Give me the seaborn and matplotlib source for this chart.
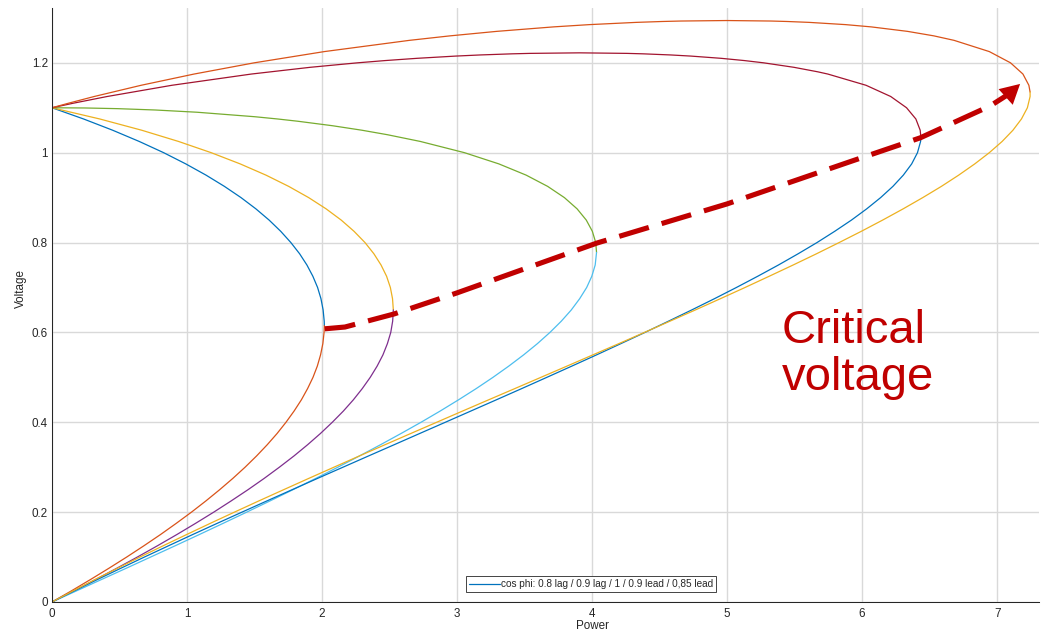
import numpy as np
import matplotlib
matplotlib.use("Agg")
import matplotlib.pyplot as plt
import seaborn as sns

# ---------------- data ----------------
# each curve: path from (0, 1.1) along the upper branch, through the nose, down to (0, 0)
pf08_lag_v = [1.1, 1.075, 1.05, 1.025, 1.0, 0.975, 0.95, 0.925, 0.9, 0.875, 0.85, 0.825, 0.8, 0.775,
              0.75, 0.725, 0.7, 0.675, 0.65, 0.625, 0.615, 0.6, 0.575, 0.55, 0.525, 0.5, 0.475, 0.45,
              0.425, 0.4, 0.375, 0.35, 0.325, 0.3, 0.275, 0.25, 0.225, 0.2, 0.175, 0.15, 0.125, 0.1,
              0.075, 0.05, 0.025, 0.0]
pf08_lag_p = [0.0, 0.234, 0.449, 0.646, 0.827, 0.991, 1.141, 1.277, 1.400, 1.510, 1.608, 1.694, 1.769, 1.834,
              1.888, 1.932, 1.967, 1.992, 2.008, 2.016, 2.017, 2.015, 2.006, 1.989, 1.965, 1.933, 1.893, 1.847,
              1.793, 1.733, 1.667, 1.594, 1.515, 1.430, 1.339, 1.242, 1.140, 1.033, 0.920, 0.803, 0.680, 0.553,
              0.421, 0.285, 0.145, 0.0]

pf09_lag_v = [1.1, 1.075, 1.05, 1.025, 1.0, 0.975, 0.95, 0.925, 0.9, 0.875, 0.85, 0.825, 0.8, 0.775,
              0.75, 0.725, 0.7, 0.675, 0.65, 0.625, 0.6, 0.575, 0.55, 0.525, 0.5, 0.475, 0.45, 0.425,
              0.4, 0.375, 0.35, 0.325, 0.3, 0.275, 0.25, 0.225, 0.2, 0.175, 0.15, 0.125, 0.1, 0.075,
              0.05, 0.025, 0.0]
pf09_lag_p = [0.0, 0.354, 0.664, 0.937, 1.179, 1.394, 1.585, 1.753, 1.901, 2.030, 2.142, 2.237, 2.318, 2.384,
              2.437, 2.478, 2.506, 2.522, 2.528, 2.523, 2.509, 2.484, 2.451, 2.408, 2.357, 2.298, 2.232, 2.158,
              2.076, 1.988, 1.893, 1.792, 1.684, 1.571, 1.452, 1.327, 1.198, 1.063, 0.924, 0.780, 0.632, 0.479,
              0.323, 0.163, 0.0]

pf10_v = [1.1, 1.0995, 1.098, 1.095, 1.09, 1.08, 1.075, 1.07, 1.06, 1.05, 1.04, 1.025, 1.0, 0.975,
          0.95, 0.925, 0.9, 0.875, 0.85, 0.825, 0.8, 0.778, 0.75, 0.725, 0.7, 0.675, 0.65, 0.625,
          0.6, 0.575, 0.55, 0.525, 0.5, 0.475, 0.45, 0.425, 0.4, 0.375, 0.35, 0.325, 0.3, 0.275,
          0.25, 0.225, 0.2, 0.175, 0.15, 0.125, 0.1, 0.075, 0.05, 0.025, 0.0]
pf10_p = [0.0, 0.243, 0.485, 0.765, 1.075, 1.503, 1.671, 1.820, 2.077, 2.295, 2.484, 2.728, 3.055, 3.310,
          3.512, 3.671, 3.795, 3.889, 3.957, 4.002, 4.027, 4.033, 4.023, 3.998, 3.960, 3.908, 3.846, 3.772,
          3.688, 3.595, 3.493, 3.383, 3.266, 3.142, 3.011, 2.875, 2.733, 2.585, 2.433, 2.277, 2.117, 1.953,
          1.785, 1.615, 1.442, 1.267, 1.090, 0.911, 0.730, 0.549, 0.366, 0.183, 0.0]

pf09_lead_v = [1.1, 1.11, 1.125, 1.15, 1.175, 1.19, 1.2, 1.205, 1.21, 1.215, 1.2175, 1.22, 1.221, 1.2222,
               1.221, 1.22, 1.2175, 1.215, 1.21, 1.205, 1.2, 1.19, 1.18, 1.175, 1.15, 1.125, 1.1, 1.075,
               1.05, 1.035, 1.025, 1.0, 0.975, 0.95, 0.925, 0.9, 0.875, 0.85, 0.825, 0.8, 0.775, 0.75,
               0.725, 0.7, 0.675, 0.65, 0.625, 0.6, 0.575, 0.55, 0.525, 0.5, 0.475, 0.45, 0.425, 0.4,
               0.375, 0.35, 0.325, 0.3, 0.275, 0.25, 0.225, 0.2, 0.175, 0.15, 0.125, 0.1, 0.075, 0.05,
               0.025, 0.0]
pf09_lead_p = [0.0, 0.156, 0.408, 0.888, 1.476, 1.912, 2.263, 2.467, 2.703, 2.990, 3.171, 3.407, 3.539, 3.907,
               4.259, 4.378, 4.582, 4.731, 4.956, 5.128, 5.270, 5.495, 5.671, 5.746, 6.029, 6.212, 6.329, 6.398,
               6.430, 6.435, 6.433, 6.410, 6.367, 6.305, 6.228, 6.137, 6.034, 5.921, 5.797, 5.666, 5.526, 5.380,
               5.227, 5.069, 4.906, 4.738, 4.566, 4.392, 4.213, 4.033, 3.850, 3.665, 3.479, 3.291, 3.102, 2.913,
               2.723, 2.534, 2.344, 2.155, 1.966, 1.779, 1.592, 1.407, 1.223, 1.041, 0.862, 0.684, 0.509, 0.336,
               0.167, 0.0]

pf085_lead_v = [1.1, 1.11, 1.125, 1.15, 1.175, 1.2, 1.225, 1.25, 1.26, 1.27, 1.28, 1.285, 1.29, 1.292,
                1.293, 1.2941, 1.293, 1.292, 1.29, 1.285, 1.28, 1.27, 1.26, 1.25, 1.225, 1.2, 1.175, 1.15,
                1.135, 1.125, 1.1, 1.075, 1.05, 1.025, 1.0, 0.975, 0.95, 0.925, 0.9, 0.875, 0.85, 0.825,
                0.8, 0.775, 0.75, 0.725, 0.7, 0.675, 0.65, 0.625, 0.6, 0.575, 0.55, 0.525, 0.5, 0.475,
                0.45, 0.425, 0.4, 0.375, 0.35, 0.325, 0.3, 0.275, 0.25, 0.225, 0.2, 0.175, 0.15, 0.125,
                0.1, 0.075, 0.05, 0.025, 0.0]
pf085_lead_p = [0.0, 0.121, 0.312, 0.660, 1.052, 1.498, 2.017, 2.647, 2.948, 3.294, 3.716, 3.980, 4.327, 4.522,
                4.656, 4.999, 5.326, 5.443, 5.608, 5.878, 6.066, 6.336, 6.531, 6.681, 6.942, 7.099, 7.191, 7.235,
                7.244, 7.244, 7.224, 7.180, 7.117, 7.037, 6.942, 6.834, 6.715, 6.587, 6.449, 6.304, 6.152, 5.994,
                5.830, 5.662, 5.489, 5.312, 5.133, 4.950, 4.765, 4.577, 4.388, 4.198, 4.006, 3.814, 3.621, 3.428,
                3.234, 3.041, 2.849, 2.657, 2.466, 2.276, 2.088, 1.901, 1.716, 1.532, 1.351, 1.172, 0.996, 0.822,
                0.651, 0.484, 0.319, 0.158, 0.0]

# critical-voltage annotation path (hand drawn arrow in the reference)
crit_p = [2.02, 2.17, 2.533, 3.0, 4.037, 5.0, 5.911, 6.43, 6.948, 7.089]
crit_v = [0.608, 0.612, 0.641, 0.688, 0.799, 0.886, 0.980, 1.033, 1.104, 1.131]
arrow_tip = (7.17, 1.153)

x_ticks = [0, 1, 2, 3, 4, 5, 6, 7]
y_ticks = [0, 0.2, 0.4, 0.6, 0.8, 1.0, 1.2]
y_tick_labels = ["0", "0.2", "0.4", "0.6", "0.8", "1", "1.2"]
legend_text = "cos phi: 0.8 lag / 0.9 lag / 1 / 0.9 lead / 0,85 lead"

# ---------------- styling ----------------
sns.set_style("white")
plt.rcParams['font.family'] = ['Liberation Sans', 'DejaVu Sans']

fig = plt.figure(figsize=(10.41, 6.35), dpi=100)
ax = fig.add_axes([52 / 1041, 1 - 602 / 635, (1039 - 52) / 1041, (602 - 8) / 635])

curves = [
    (pf08_lag_p, pf08_lag_v, '#0072BD', '#D95319'),
    (pf09_lag_p, pf09_lag_v, '#EDB120', '#7E2F8E'),
    (pf10_p, pf10_v, '#77AC30', '#4DBEEE'),
    (pf09_lead_p, pf09_lead_v, '#A2142F', '#0072BD'),
    (pf085_lead_p, pf085_lead_v, '#D95319', '#EDB120'),
]

first_line = None
for p, v, cu, cl in curves:
    p = np.asarray(p); v = np.asarray(v)
    k = int(np.argmax(p))
    sns.lineplot(x=p[:k + 1], y=v[:k + 1], sort=False, estimator=None, color=cu, lw=0.9, ax=ax)
    if first_line is None:
        first_line = ax.lines[-1]
    sns.lineplot(x=p[k:], y=v[k:], sort=False, estimator=None, color=cl, lw=0.9, ax=ax)

# dashed critical voltage arrow
red = '#C00000'
ax.plot(crit_p, crit_v, color=red, lw=3.7, linestyle=(0, (6, 2.6)), dash_capstyle='butt', zorder=5)
ax.annotate('', xy=arrow_tip, xytext=(crit_p[-1], crit_v[-1]),
            arrowprops=dict(arrowstyle='-|>,head_length=0.7,head_width=0.38', color=red, lw=0,
                            mutation_scale=20, shrinkA=0, shrinkB=0), zorder=6)

ax.text(5.405, 0.5766, 'Critical', fontsize=34, color=red, ha='left', va='baseline')
ax.text(5.405, 0.472, 'voltage', fontsize=34, color=red, ha='left', va='baseline')

# axes
ax.set_xlim(0, 7.31)
ax.set_ylim(0, 1.322)
ax.set_xticks(x_ticks)
ax.set_xticklabels([str(t) for t in x_ticks])
ax.set_yticks(y_ticks)
ax.set_yticklabels(y_tick_labels)
ax.grid(True, color='#d9d9d9', lw=1.0)
ax.set_axisbelow(True)
ax.tick_params(axis='both', direction='in', length=8, width=0.75, color='#262626',
               labelsize=8.4, labelcolor='#262626')
ax.tick_params(axis='x', pad=4.3)
ax.tick_params(axis='y', pad=3.0)
for s in ['top', 'right']:
    ax.spines[s].set_visible(False)
for s in ['left', 'bottom']:
    ax.spines[s].set_color('#262626')
    ax.spines[s].set_linewidth(0.75)

ax.set_xlabel('Power', fontsize=8.4, color='#262626')
ax.set_ylabel('Voltage', fontsize=8.4, color='#262626')
ax.xaxis.set_label_coords(0.548, -0.030)
ax.yaxis.set_label_coords(-0.0253, 0.5286)

leg = ax.legend(handles=[first_line], labels=[legend_text], loc='lower center',
                bbox_to_anchor=(0.546, 0.0168), fontsize=7.2, frameon=True, fancybox=False,
                edgecolor='#262626', framealpha=1, handlelength=3.1, handletextpad=0.15,
                borderpad=0.3, borderaxespad=0)
leg.get_frame().set_linewidth(0.6)

fig.savefig('out.png', dpi=100)
